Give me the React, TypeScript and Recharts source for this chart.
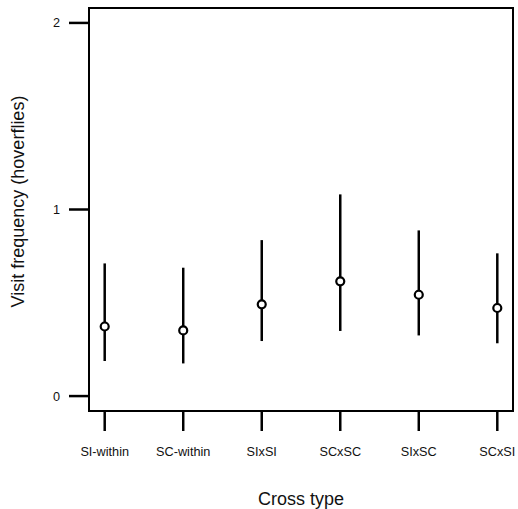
// Visit frequency by cross type: mean with interval, drawn as R-style point range plot
import { ScatterChart, Scatter, XAxis, YAxis, ErrorBar, ReferenceArea } from 'recharts';

const crossTypes = ['SI-within', 'SC-within', 'SIxSI', 'SCxSC', 'SIxSC', 'SCxSI'];
const means = [0.373, 0.352, 0.492, 0.615, 0.543, 0.472];
const lower = [0.188, 0.175, 0.295, 0.349, 0.325, 0.283];
const upper = [0.711, 0.688, 0.836, 1.081, 0.888, 0.765];
const yTicks = [0, 1, 2];

const data = crossTypes.map((name, i) => ({
  idx: i + 1,
  name,
  mean: means[i],
  err: [means[i] - lower[i], upper[i] - means[i]],
}));

const FONT = '"Liberation Sans", Arial, sans-serif';
const INK = '#111';

function OpenCircle(props: any) {
  const { cx, cy } = props;
  return <circle cx={cx} cy={cy} r={4} fill="#fff" stroke="#000" strokeWidth={2.2} />;
}

function XTitle({ viewBox }: any) {
  const cx = viewBox.x + viewBox.width / 2;
  return (
    <text x={cx} y={viewBox.y + 94} textAnchor="middle" fontFamily={FONT} fontSize={18} fill={INK}>
      Cross type
    </text>
  );
}

function YTitle({ viewBox }: any) {
  const cx = viewBox.x + 23.5;
  const cy = viewBox.y + viewBox.height / 2 - 8;
  return (
    <text
      x={cx}
      y={cy}
      transform={`rotate(-90 ${cx} ${cy})`}
      textAnchor="middle"
      fontFamily={FONT}
      fontSize={18}
      fill={INK}
    >
      Visit frequency (hoverflies)
    </text>
  );
}

export default function App() {
  return (
    <div style={{ position: 'absolute', left: 0, top: 0, background: '#fff' }}>
      <ScatterChart width={518} height={509} margin={{ top: 8, right: 5, left: 0, bottom: 0 }}>
        <XAxis
          type="number"
          dataKey="idx"
          domain={[0.8, 6.2]}
          ticks={[1, 2, 3, 4, 5, 6]}
          tickFormatter={(v: number) => crossTypes[v - 1]}
          height={98}
          axisLine={false}
          tickSize={20}
          tickMargin={16}
          tickLine={{ stroke: '#000', strokeWidth: 2.5 }}
          tick={{ fontSize: 12.7, fontFamily: FONT, fill: INK }}
          label={{ content: XTitle }}
        />
        <YAxis
          type="number"
          dataKey="mean"
          domain={[-0.08, 2.08]}
          ticks={yTicks}
          width={89}
          axisLine={false}
          tickSize={20}
          tickMargin={9}
          tickLine={{ stroke: '#000', strokeWidth: 2.5 }}
          tick={{ fontSize: 12.7, fontFamily: FONT, fill: INK }}
          label={{ content: YTitle }}
        />
        <ReferenceArea
          x1={0.8}
          x2={6.2}
          y1={-0.08}
          y2={2.08}
          fill="none"
          stroke="#000"
          strokeWidth={2}
          ifOverflow="visible"
        />
        <Scatter data={data} shape={<OpenCircle />} isAnimationActive={false}>
          <ErrorBar dataKey="err" direction="y" width={0} stroke="#000" strokeWidth={2.5} isAnimationActive={false} />
        </Scatter>
      </ScatterChart>
    </div>
  );
}
